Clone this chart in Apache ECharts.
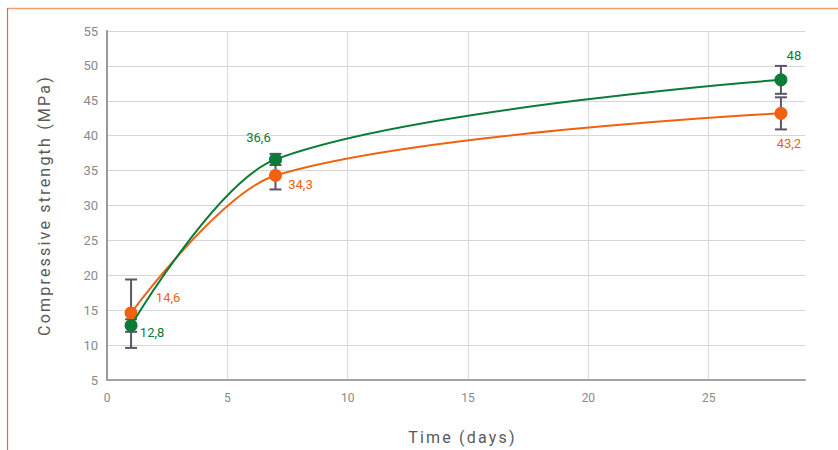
<!DOCTYPE html>
<html>
<head>
<meta charset="utf-8">
<script src="https://cdn.jsdelivr.net/npm/echarts@6/dist/echarts.min.js"></script>
<style>
html,body{margin:0;padding:0;background:#fff;}
#chart{width:838px;height:450px;}
#chart text[style*="16px"]{letter-spacing:2.2px;}
</style>
</head>
<body>
<div id="chart"></div>
<script>
// Data
var days = [1, 7, 28];
var greenValues = [12.8, 36.6, 48];
var greenErrLow = [11.9, 35.8, 46.0];
var greenErrHigh = [13.7, 37.4, 50.0];
var orangeValues = [14.6, 34.3, 43.2];
var orangeErrLow = [9.6, 32.3, 40.9];
var orangeErrHigh = [19.4, 36.3, 45.5];
var xTicks = [0, 5, 10, 15, 20, 25];
var yTicks = [5, 10, 15, 20, 25, 30, 35, 40, 45, 50, 55];

var GREEN = '#0a7c38';
var ORANGE = '#f0620f';
var ERR = '#5c5664';

// label placement (style only)
var greenLabelOffsets = [[21, 7], [-17, -22], [13, -24]];
var orangeLabelOffsets = [[37, -15], [25, 9], [8, 30]];

function fmt(v){ return String(v).replace('.', ','); }

function buildSeriesData(vals, offsets, color){
  return vals.map(function(v, i){
    return {
      value: [days[i], v],
      label: {
        show: true, position: 'inside', offset: offsets[i],
        formatter: fmt(v), color: color, fontSize: 13,
        fontFamily: 'Roboto'
      }
    };
  });
}

function errData(low, high){
  return days.map(function(d, i){ return [d, low[i], high[i]]; });
}

function renderErr(params, api){
  var x = api.value(0);
  var lo = api.coord([x, api.value(1)]);
  var hi = api.coord([x, api.value(2)]);
  var w = 6;
  var st = { stroke: ERR, lineWidth: 2 };
  return {
    type: 'group',
    children: [
      { type: 'line', shape: { x1: lo[0], y1: lo[1], x2: hi[0], y2: hi[1] }, style: st },
      { type: 'line', shape: { x1: lo[0]-w, y1: lo[1], x2: lo[0]+w, y2: lo[1] }, style: st },
      { type: 'line', shape: { x1: hi[0]-w, y1: hi[1], x2: hi[0]+w, y2: hi[1] }, style: st }
    ]
  };
}

var chart = echarts.init(document.getElementById('chart'), null, { renderer: 'svg' });
chart.setOption({
  animation: false,
  backgroundColor: '#fff',
  textStyle: { fontFamily: 'Roboto' },
  graphic: [
    { type: 'line', shape: { x1: 7, y1: 8.5, x2: 838, y2: 8.5 }, style: { stroke: '#ef9e72', lineWidth: 1.5 } },
    { type: 'line', shape: { x1: 7.5, y1: 8, x2: 7.5, y2: 450 }, style: { stroke: '#e0702f', lineWidth: 1.2 } }
  ],
  grid: { left: 107, right: 33, top: 31, bottom: 69 },
  xAxis: {
    type: 'value', min: 0, max: 29, interval: 5,
    name: 'Time (days)', nameLocation: 'middle', nameGap: 49,
    nameTextStyle: { fontSize: 16, color: '#5a5a5a', fontFamily: 'Roboto', padding: [0, 0, 0, 13] },
    axisLine: { show: true, lineStyle: { color: '#a3a3a3', width: 2 } },
    axisTick: { show: false },
    axisLabel: { color: '#8a8a8a', fontSize: 12, margin: 12, showMaxLabel: false,
      formatter: function(v){ return xTicks.indexOf(v) >= 0 ? String(v) : ''; } },
    splitLine: { show: true, showMaxLine: false, lineStyle: { color: '#dcd8d2', width: 1 } }
  },
  yAxis: {
    type: 'value', min: 5, max: 55, interval: 5,
    name: 'Compressive strength (MPa)', nameLocation: 'middle', nameGap: 55,
    nameTextStyle: { fontSize: 16, color: '#5a5a5a', fontFamily: 'Roboto' },
    axisLine: { show: true, lineStyle: { color: '#9a9a9a', width: 2 } },
    axisTick: { show: false },
    axisLabel: { color: '#8a8a8a', fontSize: 13, margin: 9,
      formatter: function(v){ return yTicks.indexOf(v) >= 0 ? String(v) : ''; } },
    splitLine: { show: true, lineStyle: { color: '#d6d6d6', width: 1 } }
  },
  series: [
    {
      type: 'custom', name: 'errOrange', renderItem: renderErr,
      data: errData(orangeErrLow, orangeErrHigh), z: 1, encode: { x: 0, y: [1, 2] }
    },
    {
      type: 'custom', name: 'errGreen', renderItem: renderErr,
      data: errData(greenErrLow, greenErrHigh), z: 1, encode: { x: 0, y: [1, 2] }
    },
    {
      type: 'line', name: 'Orange', smooth: 0.3,
      data: buildSeriesData(orangeValues, orangeLabelOffsets, ORANGE),
      symbol: 'circle', symbolSize: 13,
      lineStyle: { color: ORANGE, width: 2 },
      itemStyle: { color: ORANGE },
      z: 3
    },
    {
      type: 'line', name: 'Green', smooth: 0.3,
      data: buildSeriesData(greenValues, greenLabelOffsets, GREEN),
      symbol: 'circle', symbolSize: 13,
      lineStyle: { color: GREEN, width: 2 },
      itemStyle: { color: GREEN },
      z: 4
    }
  ]
});
</script>
</body>
</html>
